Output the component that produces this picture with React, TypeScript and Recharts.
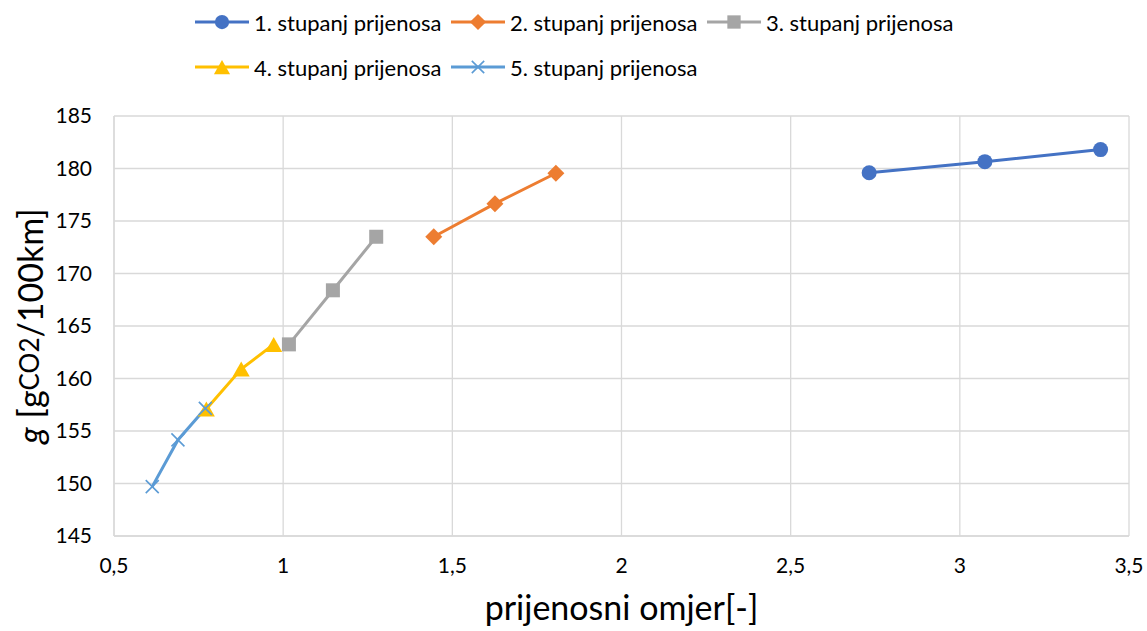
import React from "react";
import { LineChart, Line, XAxis, YAxis, CartesianGrid, Label } from "recharts";

// gear ratio (x) vs CO2 emission g/100km (y), one list per gear
const gear1X = [2.732, 3.074, 3.416];
const gear1Y = [179.6, 180.65, 181.8];
const gear2X = [1.445, 1.626, 1.806];
const gear2Y = [173.5, 176.65, 179.55];
const gear3X = [1.017, 1.147, 1.275];
const gear3Y = [163.25, 168.4, 173.5];
const gear4X = [0.773, 0.876, 0.972];
const gear4Y = [157.1, 160.9, 163.25];
const gear5X = [0.613, 0.689, 0.77];
const gear5Y = [149.7, 154.15, 157.15];

const seriesNames = [
  "1. stupanj prijenosa",
  "2. stupanj prijenosa",
  "3. stupanj prijenosa",
  "4. stupanj prijenosa",
  "5. stupanj prijenosa",
];
const xTicks = [0.5, 1, 1.5, 2, 2.5, 3, 3.5];
const yTicks = [145, 150, 155, 160, 165, 170, 175, 180, 185];

const FONT = "Lato, 'Open Sans', sans-serif";
const GRID = "#D9D9D9";

type Shape = "circle" | "diamond" | "square" | "triangle" | "x";

const zip = (xs: number[], ys: number[]) => xs.map((x, i) => ({ x, y: ys[i] }));

const series: { name: string; color: string; shape: Shape; data: { x: number; y: number }[] }[] = [
  { name: seriesNames[0], color: "#4472C4", shape: "circle", data: zip(gear1X, gear1Y) },
  { name: seriesNames[1], color: "#ED7D31", shape: "diamond", data: zip(gear2X, gear2Y) },
  { name: seriesNames[2], color: "#A5A5A5", shape: "square", data: zip(gear3X, gear3Y) },
  { name: seriesNames[3], color: "#FFC000", shape: "triangle", data: zip(gear4X, gear4Y) },
  { name: seriesNames[4], color: "#5B9BD5", shape: "x", data: zip(gear5X, gear5Y) },
];

function Marker({ shape, cx, cy, color, s = 1 }: { shape: Shape; cx: number; cy: number; color: string; s?: number }) {
  switch (shape) {
    case "circle":
      return <circle cx={cx} cy={cy} r={7.5 * s} fill={color} />;
    case "diamond": {
      const d = 8.5 * s;
      return <polygon points={`${cx},${cy - d} ${cx + d},${cy} ${cx},${cy + d} ${cx - d},${cy}`} fill={color} />;
    }
    case "square": {
      const h = 7 * s;
      return <rect x={cx - h} y={cy - h} width={2 * h} height={2 * h} fill={color} />;
    }
    case "triangle": {
      const w = 8.5 * s;
      const h = 7.5 * s;
      return <polygon points={`${cx},${cy - h} ${cx + w},${cy + h} ${cx - w},${cy + h}`} fill={color} />;
    }
    default: {
      const h = 6.5 * s;
      return (
        <g stroke={color} strokeWidth={1.6}>
          <line x1={cx - h} y1={cy - h} x2={cx + h} y2={cy + h} />
          <line x1={cx - h} y1={cy + h} x2={cx + h} y2={cy - h} />
        </g>
      );
    }
  }
}

function LegendItem({ name, color, shape }: { name: string; color: string; shape: Shape }) {
  return (
    <div style={{ display: "flex", alignItems: "center", width: 256 }}>
      <svg width={54} height={20} style={{ marginRight: 5 }}>
        <line x1={0} y1={10} x2={54} y2={10} stroke={color} strokeWidth={3} />
        <Marker shape={shape} cx={27} cy={10} color={color} s={0.95} />
      </svg>
      <span style={{ fontFamily: FONT, fontSize: 22, color: "#000", whiteSpace: "nowrap" }}>{name}</span>
    </div>
  );
}

function YTitle(props: any) {
  const { y, height } = props.viewBox;
  const cx = 29;
  const cy = y + height / 2;
  return (
    <text
      x={cx}
      y={cy}
      transform={`rotate(-90 ${cx} ${cy})`}
      textAnchor="middle"
      dominantBaseline="central"
      fontFamily={FONT}
      fontSize={34}
      fill="#000"
    >
      <tspan fontStyle="italic">g</tspan>
      <tspan> [g</tspan>
      <tspan fontSize={26}>CO2</tspan>
      <tspan>/100km]</tspan>
    </text>
  );
}

function XTitle(props: any) {
  const { x, width } = props.viewBox;
  return (
    <text x={x + width / 2} y={620} textAnchor="middle" fontFamily={FONT} fontSize={34} fill="#000">
      prijenosni omjer[-]
    </text>
  );
}

export default function App() {
  return (
    <div style={{ position: "absolute", left: 0, top: 0, width: 1147, height: 631, background: "#fff" }}>
      <LineChart width={1147} height={631} margin={{ top: 116, right: 18, bottom: 55, left: 0 }}>
        <CartesianGrid stroke={GRID} strokeWidth={1.3} />
        <XAxis
          type="number"
          dataKey="x"
          domain={[0.5, 3.5]}
          ticks={xTicks}
          allowDataOverflow
          height={40}
          tickSize={0}
          tickMargin={22}
          tickLine={false}
          axisLine={{ stroke: GRID, strokeWidth: 1.3 }}
          tick={{ fill: "#000", fontSize: 21, fontFamily: FONT }}
          tickFormatter={(v: number) => String(v).replace(".", ",")}
        >
          <Label content={XTitle} />
        </XAxis>
        <YAxis
          type="number"
          dataKey="y"
          domain={[145, 185]}
          ticks={yTicks}
          allowDataOverflow
          width={114}
          tickSize={0}
          tickMargin={22}
          tickLine={false}
          axisLine={{ stroke: GRID, strokeWidth: 1.3 }}
          tick={{ fill: "#000", fontSize: 21, fontFamily: FONT }}
        >
          <Label content={YTitle} />
        </YAxis>
        {series.map((s) => (
          <Line
            key={s.name}
            data={s.data}
            dataKey="y"
            name={s.name}
            type="linear"
            stroke={s.color}
            strokeWidth={3}
            isAnimationActive={false}
            dot={(p: any) => <Marker key={p.index} shape={s.shape} cx={p.cx} cy={p.cy} color={s.color} />}
            activeDot={false}
          />
        ))}
      </LineChart>
      <div style={{ position: "absolute", left: 195, top: 9, width: 800 }}>
        <div style={{ display: "flex", height: 26 }}>
          {series.slice(0, 3).map((s) => (
            <LegendItem key={s.name} name={s.name} color={s.color} shape={s.shape} />
          ))}
        </div>
        <div style={{ display: "flex", height: 26, marginTop: 19 }}>
          {series.slice(3).map((s) => (
            <LegendItem key={s.name} name={s.name} color={s.color} shape={s.shape} />
          ))}
        </div>
      </div>
    </div>
  );
}
